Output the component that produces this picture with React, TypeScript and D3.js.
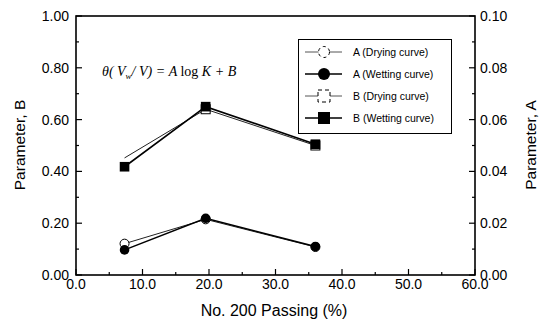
import React, { useEffect, useRef } from "react";
import * as d3 from "d3";

// No. 200 passing (%) for the three soils
const passing = [7.3, 19.5, 36];
// parameter A (right axis)
const aDrying = [0.0121, 0.0215, 0.0108];
const aWetting = [0.0097, 0.0219, 0.011];
// parameter B (left axis)
const bDrying = [0.452, 0.64, 0.5];
const bWetting = [0.418, 0.65, 0.505];
// open B (drying) marker shows only where it sits under the filled one
const bDryingMarker = [false, true, true];

const xTicks = [0, 10, 20, 30, 40, 50, 60];
const bTicks = [0, 0.2, 0.4, 0.6, 0.8, 1.0];
const aTicks = [0, 0.02, 0.04, 0.06, 0.08, 0.1];

const legendItems = [
  { label: "A (Drying curve)", shape: "circle", filled: false },
  { label: "A (Wetting curve)", shape: "circle", filled: true },
  { label: "B (Drying curve)", shape: "square", filled: false },
  { label: "B (Wetting curve)", shape: "square", filled: true },
];

const App = () => {
  const node = useRef<SVGSVGElement>(null);

  useEffect(() => {
    const svg = d3.select(node.current);
    svg.selectAll("*").remove();

    const left = 76, right = 475, top = 16, bottom = 275;
    const font = "'Liberation Sans', Arial, sans-serif";

    const x = d3.scaleLinear().domain([0, 60]).range([left, right]);
    const yB = d3.scaleLinear().domain([0, 1]).range([bottom, top]);
    const yA = d3.scaleLinear().domain([0, 0.1]).range([bottom, top]);

    // frame
    svg.append("rect")
      .attr("x", left).attr("y", top)
      .attr("width", right - left).attr("height", bottom - top)
      .attr("fill", "none").attr("stroke", "#000").attr("stroke-width", 1.6);

    // x axis ticks (inward)
    const g = svg.append("g");
    d3.range(0, 61, 5).forEach((v) => {
      const major = v % 10 === 0;
      g.append("line")
        .attr("x1", x(v)).attr("x2", x(v))
        .attr("y1", bottom).attr("y2", bottom - (major ? 6 : 3))
        .attr("stroke", "#000").attr("stroke-width", 1.2);
    });
    xTicks.forEach((v) => {
      g.append("text")
        .attr("x", x(v)).attr("y", bottom + 14)
        .attr("text-anchor", "middle")
        .attr("font-family", font).attr("font-size", 14)
        .text(v.toFixed(1));
    });

    // left / right axis ticks
    d3.range(0, 1.001, 0.1).forEach((v) => {
      const major = Math.round(v * 10) % 2 === 0;
      g.append("line")
        .attr("x1", left).attr("x2", left + (major ? 6 : 3))
        .attr("y1", yB(v)).attr("y2", yB(v))
        .attr("stroke", "#000").attr("stroke-width", 1.2);
      g.append("line")
        .attr("x1", right).attr("x2", right - (major ? 6 : 3))
        .attr("y1", yB(v)).attr("y2", yB(v))
        .attr("stroke", "#000").attr("stroke-width", 1.2);
    });
    bTicks.forEach((v) => {
      g.append("text")
        .attr("x", left - 7).attr("y", yB(v) + 5)
        .attr("text-anchor", "end")
        .attr("font-family", font).attr("font-size", 14)
        .text(v.toFixed(2));
    });
    aTicks.forEach((v) => {
      g.append("text")
        .attr("x", right + 5).attr("y", yA(v) + 5)
        .attr("text-anchor", "start")
        .attr("font-family", font).attr("font-size", 14)
        .text(v.toFixed(2));
    });

    // axis titles
    svg.append("text")
      .attr("x", 274).attr("y", 316)
      .attr("text-anchor", "middle")
      .attr("font-family", font).attr("font-size", 16)
      .text("No. 200 Passing (%)");
    svg.append("text")
      .attr("transform", "translate(25,145)rotate(-90)")
      .attr("text-anchor", "middle")
      .attr("font-family", font).attr("font-size", 15.5)
      .text("Parameter,  B");
    svg.append("text")
      .attr("transform", "translate(536,145)rotate(-90)")
      .attr("text-anchor", "middle")
      .attr("font-family", font).attr("font-size", 15.5)
      .text("Parameter,  A");

    // equation
    const eq = svg.append("text")
      .attr("x", 102).attr("y", 76)
      .attr("font-family", "'Liberation Serif', 'Times New Roman', serif")
      .attr("font-size", 14).attr("font-style", "italic");
    eq.append("tspan").text("θ( V");
    eq.append("tspan").attr("font-size", 9).attr("dy", 3).text("w");
    eq.append("tspan").attr("dy", -3).text("/ V) = A ");
    eq.append("tspan").attr("font-style", "normal").text("log");
    eq.append("tspan").text(" K + B");

    const line = (ys: number[], y: d3.ScaleLinear<number, number>) =>
      d3.line<number>().x((_, i) => x(passing[i])).y((d) => y(d))(ys);

    // drying lines (thin)
    svg.append("path").attr("d", line(bDrying, yB)).attr("fill", "none")
      .attr("stroke", "#222").attr("stroke-width", 1);
    svg.append("path").attr("d", line(aDrying, yA)).attr("fill", "none")
      .attr("stroke", "#222").attr("stroke-width", 1);
    // wetting lines (thick)
    svg.append("path").attr("d", line(bWetting, yB)).attr("fill", "none")
      .attr("stroke", "#000").attr("stroke-width", 1.6);
    svg.append("path").attr("d", line(aWetting, yA)).attr("fill", "none")
      .attr("stroke", "#000").attr("stroke-width", 1.6);

    // drying markers (open)
    aDrying.forEach((v, i) => {
      svg.append("circle").attr("cx", x(passing[i])).attr("cy", yA(v)).attr("r", 4.5)
        .attr("fill", "#fff").attr("stroke", "#000").attr("stroke-width", 1);
    });
    bDrying.forEach((v, i) => {
      if (!bDryingMarker[i]) return;
      svg.append("rect").attr("x", x(passing[i]) - 4.5).attr("y", yB(v) - 4.5)
        .attr("width", 9).attr("height", 9)
        .attr("fill", "#fff").attr("stroke", "#000").attr("stroke-width", 1);
    });
    // wetting markers (filled)
    aWetting.forEach((v, i) => {
      svg.append("circle").attr("cx", x(passing[i])).attr("cy", yA(v)).attr("r", 4.8)
        .attr("fill", "#000");
    });
    bWetting.forEach((v, i) => {
      svg.append("rect").attr("x", x(passing[i]) - 4.8).attr("y", yB(v) - 4.8)
        .attr("width", 9.6).attr("height", 9.6)
        .attr("fill", "#000");
    });

    // legend
    const lg = svg.append("g");
    lg.append("rect")
      .attr("x", 298.5).attr("y", 39.5).attr("width", 153).attr("height", 94)
      .attr("fill", "#fff").attr("stroke", "#000").attr("stroke-width", 1);
    const rowY = d3.scalePoint<number>().domain(d3.range(4)).range([52, 118]);
    legendItems.forEach((it, i) => {
      const cy = rowY(i) as number;
      lg.append("line").attr("x1", 305).attr("x2", 342).attr("y1", cy).attr("y2", cy)
        .attr("stroke", it.filled ? "#000" : "#555").attr("stroke-width", it.filled ? 1.5 : 1);
      if (it.shape === "circle") {
        lg.append("circle").attr("cx", 324).attr("cy", cy).attr("r", it.filled ? 6 : 5.5)
          .attr("fill", it.filled ? "#000" : "#fff")
          .attr("stroke", "#000").attr("stroke-width", it.filled ? 0 : 1)
          .attr("stroke-dasharray", it.filled ? null : "3,3");
      } else {
        lg.append("rect").attr("x", 318).attr("y", cy - 6).attr("width", 12).attr("height", 12)
          .attr("fill", it.filled ? "#000" : "#fff")
          .attr("stroke", "#000").attr("stroke-width", it.filled ? 0 : 1)
          .attr("stroke-dasharray", it.filled ? null : "4,3");
      }
      lg.append("text").attr("x", 353).attr("y", cy + 4)
        .attr("font-family", font).attr("font-size", 10.5)
        .text(it.label);
    });
  }, []);

  return (
    <svg ref={node} width={546} height={322}
      style={{ position: "absolute", left: 0, top: 0, background: "#fff" }} />
  );
};

export default App;
